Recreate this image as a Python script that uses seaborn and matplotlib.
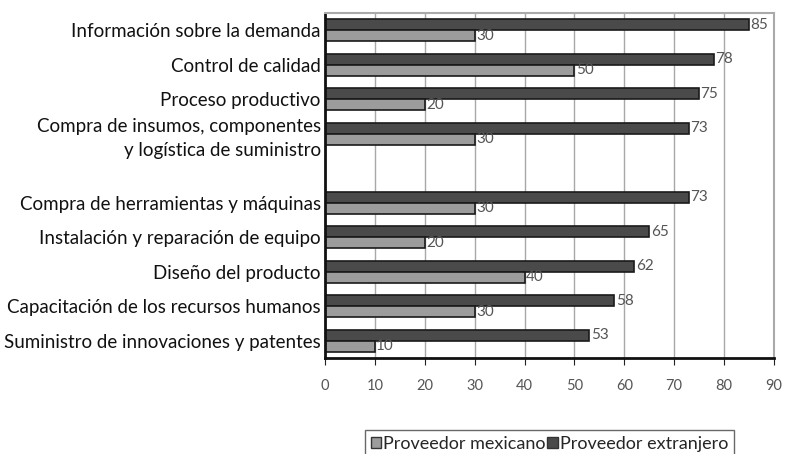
import pandas as pd
import numpy as np
import seaborn as sns
import matplotlib.pyplot as plt
import matplotlib.transforms as mtrans

categorias = ['Información sobre la demanda', 'Control de calidad', 'Proceso productivo',
              'Compra de insumos, componentes', ' ',
              'Compra de herramientas y máquinas', 'Instalación y reparación de equipo',
              'Diseño del producto', 'Capacitación de los recursos humanos',
              'Suministro de innovaciones y patentes']
extranjero = [85, 78, 75, 73, np.nan, 73, 65, 62, 58, 53]
mexicano = [30, 50, 20, 30, np.nan, 30, 20, 40, 30, 10]
series = ['Proveedor extranjero', 'Proveedor mexicano']
ticks_x = [0, 10, 20, 30, 40, 50, 60, 70, 80, 90]

df = pd.concat([
    pd.DataFrame({'cat': categorias, 'valor': extranjero, 'serie': series[0]}),
    pd.DataFrame({'cat': categorias, 'valor': mexicano, 'serie': series[1]}),
]).dropna()

sns.set_style('white')
plt.rcParams['font.family'] = ['Lato', 'DejaVu Sans']

fig = plt.figure(figsize=(7.85, 4.54), dpi=100)
ax = fig.add_axes([0.414, 0.2115, 0.572, 0.76])

colores = {series[0]: '#4a4a4a', series[1]: '#9c9c9c'}
sns.barplot(data=df, y='cat', x='valor', hue='serie', order=categorias,
            hue_order=series, palette=colores, orient='h', width=0.64,
            edgecolor='#1a1a1a', linewidth=1.2, ax=ax, legend=False)

for c in ax.containers:
    ax.bar_label(c, fmt='%d', padding=1, fontsize=11, color='#555555')

ax.set_xlim(0, 90)
ax.set_xticks(ticks_x)
ax.set_xticklabels([str(t) for t in ticks_x], fontsize=10.5, color='#555555')
ax.xaxis.grid(True, color='#a8a8a8', linewidth=1)
ax.set_axisbelow(True)
ax.set_xlabel('')
ax.set_ylabel('')

etiquetas = list(categorias)
etiquetas[3] = 'Compra de insumos, componentes\ny logística de suministro'
etiquetas[4] = ''
ax.set_yticks(range(len(categorias)))
ax.set_yticklabels(etiquetas, fontsize=13.5, color='#111111')
lab = ax.get_yticklabels()[3]
lab.set_linespacing(1.5)
off = mtrans.ScaledTranslation(0, -10 / 72, fig.dpi_scale_trans)
lab.set_transform(lab.get_transform() + off)
ax.tick_params(axis='y', length=0, pad=3)
ax.tick_params(axis='x', length=5, direction='out', color='#222222', bottom=True, pad=10)

for s in ['left', 'bottom']:
    ax.spines[s].set_color('#111111')
    ax.spines[s].set_linewidth(2)
for s in ['top', 'right']:
    ax.spines[s].set_color('#aaaaaa')
    ax.spines[s].set_linewidth(1.5)

handles = [plt.Rectangle((0, 0), 1, 1, facecolor=colores[series[1]], edgecolor='#333333'),
           plt.Rectangle((0, 0), 1, 1, facecolor=colores[series[0]], edgecolor='#333333')]
fig.legend(handles, [series[1], series[0]], loc='upper center', bbox_to_anchor=(0.70, 0.072),
           ncol=2, frameon=True, fancybox=False, edgecolor='#444444', fontsize=13,
           handlelength=0.6, handleheight=0.6, handletextpad=0.1, columnspacing=0.1,
           borderpad=0.3)

fig.savefig('out.png', dpi=100)
